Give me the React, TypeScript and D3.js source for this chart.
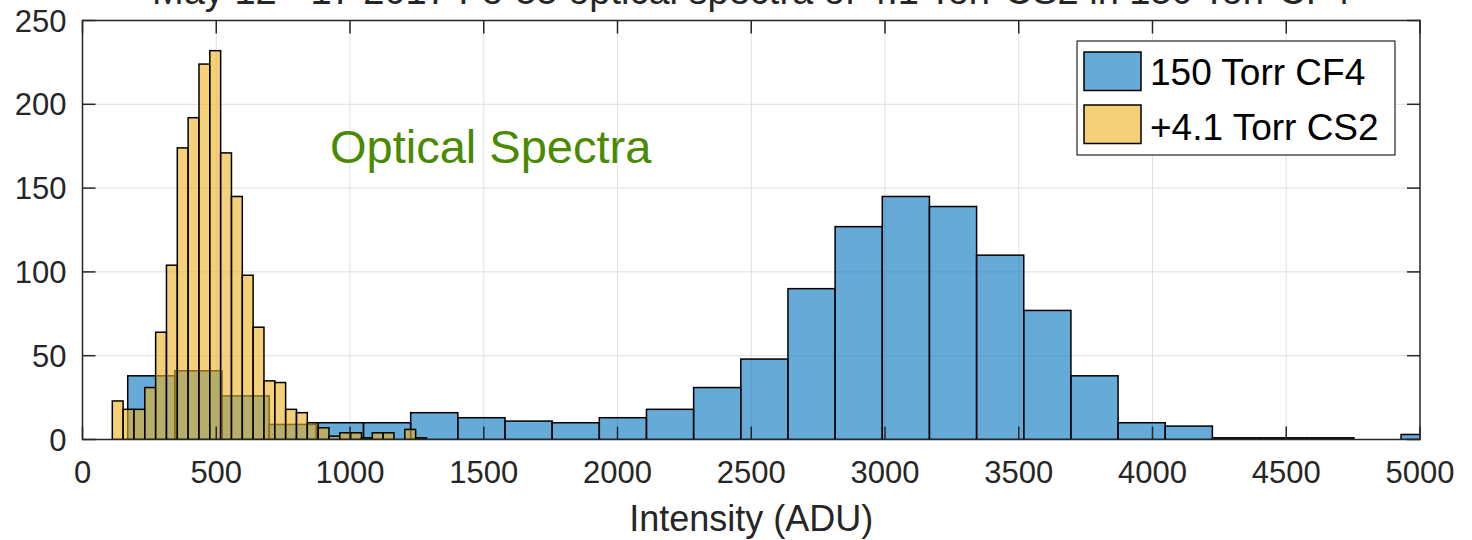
import React from "react";
import * as d3 from "d3";

// Histogram of Fe-55 optical spectra: pure CF4 versus CF4 with a CS2 admixture.
const cf4BinStart = 169;
const cf4BinWidth = 176.3;
const cf4Counts = [38, 41, 26, 9, 10, 10, 16, 13, 11, 10, 13, 18, 31, 48, 90, 127, 145, 139, 110, 77, 38, 10, 8, 1, 1, 1, 0, 3];

const cs2BinStart = 111.4;
const cs2BinWidth = 40.5;
const cs2Counts = [23, 18, 18, 31, 64, 104, 174, 192, 224, 232, 171, 145, 98, 67, 35, 34, 18, 16, 10, 7, 2, 4, 4, 1, 4, 4, 0, 6, 1];

const xTicks = [0, 500, 1000, 1500, 2000, 2500, 3000, 3500, 4000, 4500, 5000];
const yTicks = [0, 50, 100, 150, 200, 250];

const seriesNames = ["150 Torr CF4", "+4.1 Torr CS2"];
const seriesColors = ["#0072BD", "#EDB120"];

const titleText = "May 12 - 17 2017 Fe-55 optical spectra of 4.1 Torr CS2 in 150 Torr CF4";
const xLabel = "Intensity (ADU)";
const annotation = "Optical Spectra";

const W = 1472;
const H = 540;
const M = { left: 82.5, right: 1420, top: 20.5, bottom: 439.5 };
const FONT = "'Liberation Sans', Arial, Helvetica, sans-serif";
const AXIS = "#262626";

function bins(start: number, width: number, counts: number[]) {
  return counts.map((c, i) => ({ x0: start + i * width, x1: start + (i + 1) * width, c }));
}

export default function App() {
  const x = d3.scaleLinear().domain([0, 5000]).range([M.left, M.right]);
  const y = d3.scaleLinear().domain([0, 250]).range([M.bottom, M.top]);
  const tickLen = 13;

  const series = [
    bins(cf4BinStart, cf4BinWidth, cf4Counts),
    bins(cs2BinStart, cs2BinWidth, cs2Counts),
  ];

  return (
    <svg
      width={W}
      height={H}
      style={{ position: "absolute", left: 0, top: 0, background: "#fff" }}
      fontFamily={FONT}
    >
      <defs>
        <clipPath id="plotArea">
          <rect x={M.left} y={M.top} width={M.right - M.left} height={M.bottom - M.top} />
        </clipPath>
      </defs>

      <text x={(M.left + M.right) / 2} y={4} textAnchor="middle" fontSize={38} fill={AXIS}>
        {titleText}
      </text>

      {/* grid */}
      <g stroke="#dfdfdf" strokeWidth={1}>
        {xTicks.slice(1, -1).map((t) => (
          <line key={"gx" + t} x1={x(t)} x2={x(t)} y1={M.top} y2={M.bottom} />
        ))}
        {yTicks.slice(1, -1).map((t) => (
          <line key={"gy" + t} x1={M.left} x2={M.right} y1={y(t)} y2={y(t)} />
        ))}
      </g>

      {/* histogram bars */}
      <g clipPath="url(#plotArea)">
        {series.map((s, si) => (
          <g key={si}>
            {s.map((b, i) => (
              <rect
                key={i}
                x={x(b.x0)}
                y={y(b.c)}
                width={x(b.x1) - x(b.x0)}
                height={y(0) - y(b.c)}
                fill={seriesColors[si]}
                fillOpacity={0.6}
                stroke="#000"
                strokeWidth={1.5}
              />
            ))}
          </g>
        ))}
      </g>

      <text x={330} y={163} fontSize={47} fill="#4a8a00">
        {annotation}
      </text>

      {/* axes box and ticks */}
      <rect
        x={M.left}
        y={M.top}
        width={M.right - M.left}
        height={M.bottom - M.top}
        fill="none"
        stroke={AXIS}
        strokeWidth={1.5}
      />
      <g stroke={AXIS} strokeWidth={1.5}>
        {xTicks.map((t) => (
          <g key={"tx" + t}>
            <line x1={x(t)} x2={x(t)} y1={M.bottom} y2={M.bottom - tickLen} />
            <line x1={x(t)} x2={x(t)} y1={M.top} y2={M.top + tickLen} />
          </g>
        ))}
        {yTicks.map((t) => (
          <g key={"ty" + t}>
            <line x1={M.left} x2={M.left + tickLen} y1={y(t)} y2={y(t)} />
            <line x1={M.right} x2={M.right - tickLen} y1={y(t)} y2={y(t)} />
          </g>
        ))}
      </g>
      <g fontSize={31} fill={AXIS}>
        {xTicks.map((t) => (
          <text key={"lx" + t} x={x(t)} y={M.bottom + 43} textAnchor="middle">
            {t}
          </text>
        ))}
        {yTicks.map((t) => (
          <text key={"ly" + t} x={M.left - 16} y={y(t) + 11} textAnchor="end">
            {t}
          </text>
        ))}
      </g>
      <text x={(M.left + M.right) / 2} y={531} textAnchor="middle" fontSize={36} fill={AXIS}>
        {xLabel}
      </text>

      {/* legend */}
      <g>
        <rect x={1077} y={41} width={318} height={114} fill="#fff" stroke={AXIS} strokeWidth={1.2} />
        {seriesNames.map((n, i) => (
          <g key={n}>
            <rect
              x={1084}
              y={52 + i * 53}
              width={57}
              height={38.5}
              fill={seriesColors[i]}
              fillOpacity={0.6}
              stroke="#000"
              strokeWidth={1.5}
            />
            <text x={1150} y={85 + i * 55} fontSize={37} fill="#000">
              {n}
            </text>
          </g>
        ))}
      </g>
    </svg>
  );
}
